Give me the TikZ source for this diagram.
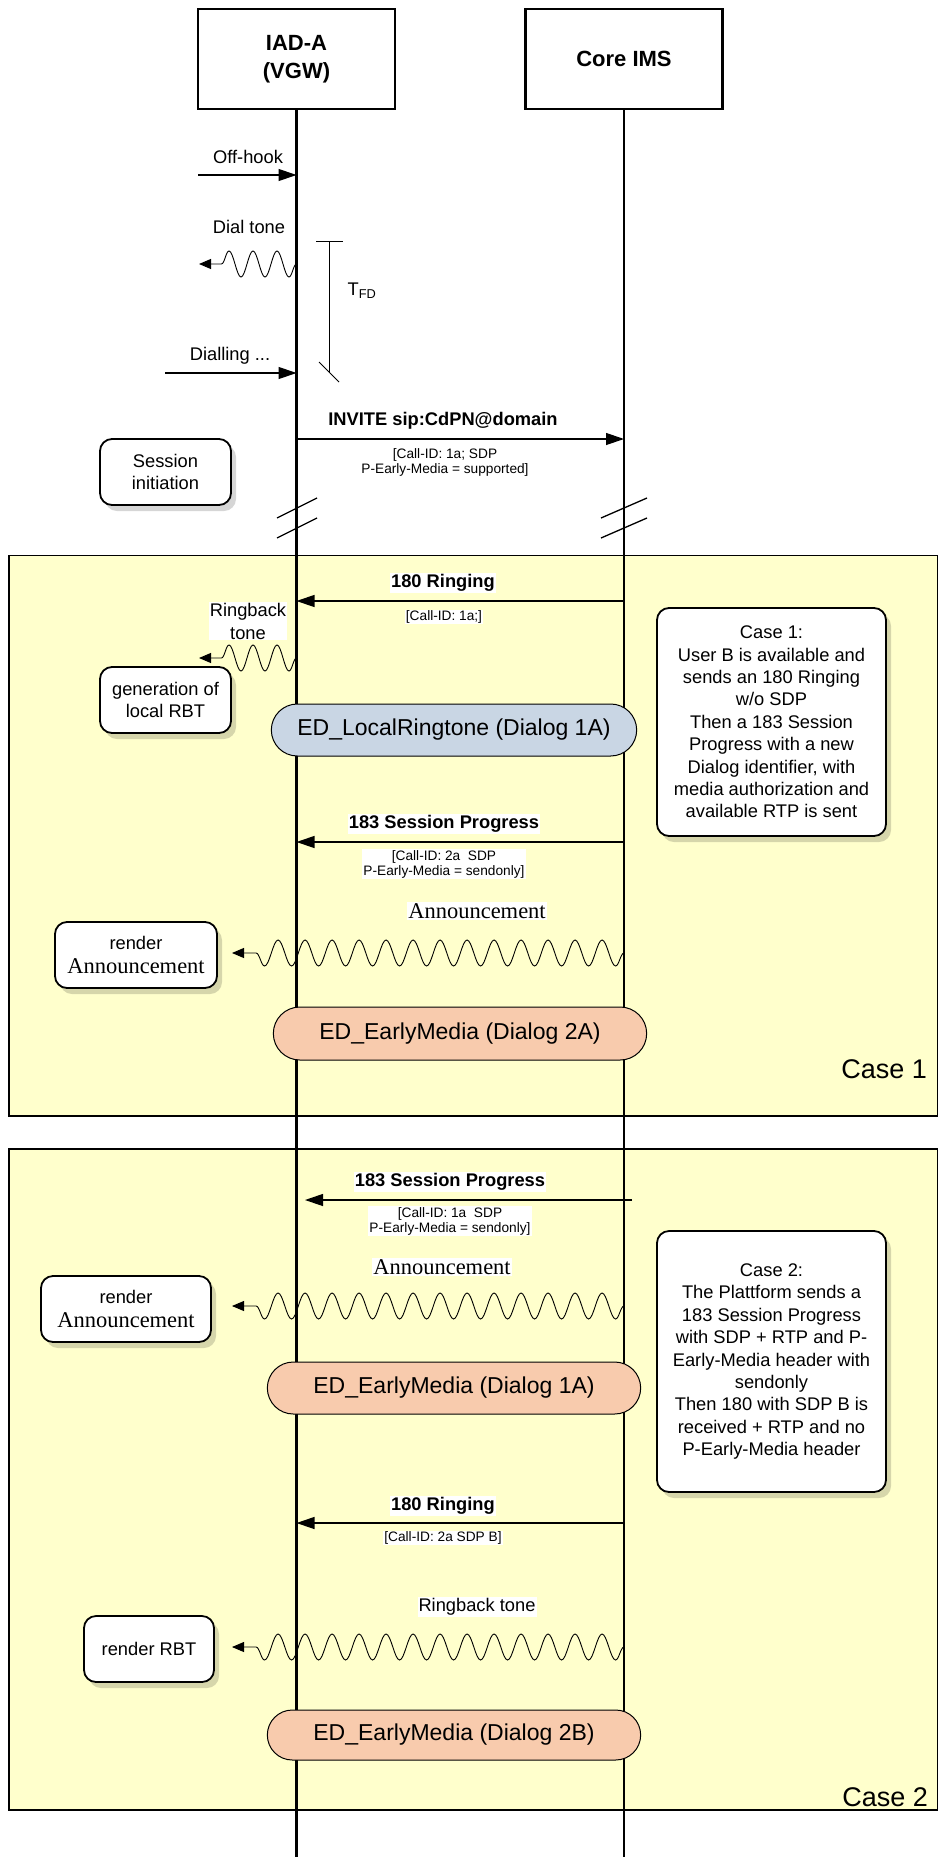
\documentclass[tikz,border=0pt]{standalone}
\usepackage{fontspec}
\setmainfont{Liberation Sans}
\newfontfamily\annfont{Liberation Serif}
\usetikzlibrary{arrows.meta, positioning, shadows, shapes.misc, decorations.pathmorphing}
\definecolor{caseyellow}{HTML}{FFFFCC}
\definecolor{dlgblue}{HTML}{C9D6E4}
\definecolor{dlgpeach}{HTML}{F8CBAD}

\tikzset{
  entity/.style={draw, line width=2.2pt, minimum width=197pt, minimum height=100pt, align=center,
    font=\fontsize{22}{28}\selectfont\bfseries},
  lifeline/.style={line width=2.5pt},
  msg/.style={line width=1.2pt, -{Triangle[length=18pt,width=12pt]}},
  msglabel/.style={fill=white, inner sep=1pt, font=\fontsize{18.3}{22}\selectfont\bfseries},
  param/.style={fill=white, inner sep=1pt, align=center, font=\fontsize{13.7}{15}\selectfont},
  plain/.style={inner sep=1pt, align=center, font=\fontsize{18.3}{23}\selectfont},
  anntext/.style={fill=white, inner sep=1pt, font=\annfont\fontsize{22.5}{26}\selectfont},
  tone/.style={line width=0.9pt, decorate,
    decoration={snake, amplitude=13pt, segment length=#1, post length=13pt},
    -{Triangle[length=12pt,width=10pt]}},
  tone/.default=27pt,
  action/.style={draw, fill=white, line width=1.8pt, rounded corners=12pt, align=center, inner sep=2pt,
    font=\fontsize{18.3}{21.5}\selectfont,
    drop shadow={shadow xshift=5pt, shadow yshift=-6pt, fill=black, opacity=0.16}},
  note/.style={action, font=\fontsize{18.3}{22.4}\selectfont},
  dialog/.style={draw, rounded rectangle, line width=1pt, font=\fontsize{23}{27}\selectfont},
  casebox/.style={draw, fill=caseyellow, line width=1.5pt},
  caselabel/.style={inner sep=0pt, font=\fontsize{27}{30}\selectfont},
  breakmark/.style={line width=1.3pt}
}

\begin{document}
\begin{tikzpicture}[x=1pt, y=-1pt, font=\fontsize{18.3}{22}\selectfont]
  \useasboundingbox (0,0) rectangle (939,1857);

  % entities
  \node[entity] (iad) at (296.5,59) {IAD-A\\(VGW)};
  \node[entity] (core) at (624,59) {Core IMS};

  % case areas
  \draw[casebox] (9,555.5) rectangle (937.5,1116);
  \draw[casebox] (9,1149) rectangle (937.5,1810);

  % lifelines
  \coordinate (iadend) at (296.5,1857);
  \coordinate (coreend) at (624,1857);
  \draw[lifeline] (iad.south) -- (iadend);
  \draw[lifeline] (core.south) -- (coreend);

  % off-hook, dial tone, dialling
  \node[plain] (offlbl) at (248,157) {Off-hook};
  \coordinate (offhook) at (198,175);
  \draw[msg] (offhook) -- (iad |- offhook);

  \node[plain] (dtlbl) at (249,227) {Dial tone};
  \coordinate (dialtone) at (199,264);
  \draw[tone=24pt] (iad |- dialtone) -- (dialtone);

  \node[plain] (diallbl) at (230,356) {Dialling ...};
  \coordinate (dialling) at (165,373);
  \draw[msg] (dialling) -- (iad |- dialling);

  % timer
  \draw[line width=1pt] (316,241) -- (343,241);
  \draw[line width=1pt] (329,241) -- (329,372);
  \draw[line width=1pt] (319,362) -- (339,382);
  \node[plain] (tfd) at (362,291) {T\textsubscript{FD}};

  % invite
  \node[msglabel] (invlbl) at (443,421) {INVITE sip:CdPN@domain};
  \coordinate (invite) at (296.5,439);
  \draw[msg] (invite) -- (core |- invite);
  \node[param, fill=none] (invpar) at (445,462) {[Call-ID: 1a; SDP\\P-Early-Media = supported]};
  \node[action, minimum width=131pt, minimum height=66pt] (sess) at (165.5,472) {Session\\initiation};

  % breaks
  \foreach \dy in {0,20} {
    \draw[breakmark] (277,518+\dy) -- (317,498+\dy);
    \draw[breakmark] (601,518+\dy) -- (647,498+\dy);
  }

  % case 1
  \node[msglabel] (r1lbl) at (443,583) {180 Ringing};
  \coordinate (ring1) at (624,601);
  \draw[msg] (ring1) -- (iad |- ring1);
  \node[param] (r1par) at (444,617) {[Call-ID: 1a;]};

  \node[plain, fill=white] (rbtlbl) at (248,621) {Ringback\\tone};
  \coordinate (rbt1) at (199,658);
  \draw[tone=24pt] (iad |- rbt1) -- (rbt1);
  \node[action, minimum width=131pt, minimum height=66pt] (genrbt) at (165.5,700) {generation of\\local RBT};

  \node[dialog, fill=dlgblue, minimum width=372pt, minimum height=52pt] (dlg1) at (454,730)
    {ED\_LocalRingtone (Dialog 1A)};

  \node[note, minimum width=229pt, minimum height=228pt] (note1) at (771.5,722)
    {Case 1:\\User B is available and\\sends an 180 Ringing\\w/o SDP\\Then a 183 Session\\Progress with a new\\Dialog identifier, with\\media authorization and\\available RTP is sent};

  \node[msglabel] (sp1lbl) at (444,824) {183 Session Progress};
  \coordinate (prog1) at (624,842);
  \draw[msg] (prog1) -- (iad |- prog1);
  \node[param] (sp1par) at (444,864) {[Call-ID: 2a~~SDP\\P-Early-Media = sendonly]};

  \node[anntext] (ann1lbl) at (477,911) {Announcement};
  \coordinate (ann1) at (232,953);
  \draw[tone] (core |- ann1) -- (ann1);
  \node[action, minimum width=162pt, minimum height=66pt, font=\fontsize{18.3}{24.5}\selectfont] (rend1) at (136,955)
    {render\\{\annfont\fontsize{22.5}{24.5}\selectfont Announcement}};

  \node[dialog, fill=dlgpeach, minimum width=380pt, minimum height=53pt] (dlg2) at (460,1033.5)
    {ED\_EarlyMedia (Dialog 2A)};
  \node[caselabel, anchor=east] (case1) at (927,1069) {Case 1};

  % case 2
  \node[msglabel] (sp2lbl) at (450,1182) {183 Session Progress};
  \coordinate (prog2s) at (632,1200);
  \coordinate (prog2e) at (305,1200);
  \draw[msg] (prog2s) -- (prog2e);
  \node[param] (sp2par) at (450,1221) {[Call-ID: 1a~~SDP\\P-Early-Media = sendonly]};

  \node[anntext] (ann2lbl) at (442,1267) {Announcement};
  \coordinate (ann2) at (232,1306);
  \draw[tone] (core |- ann2) -- (ann2);
  \node[action, minimum width=170pt, minimum height=66pt, font=\fontsize{18.3}{24.5}\selectfont] (rend2) at (126,1309)
    {render\\{\annfont\fontsize{22.5}{24.5}\selectfont Announcement}};

  \node[dialog, fill=dlgpeach, minimum width=380pt, minimum height=52pt] (dlg3) at (454,1388)
    {ED\_EarlyMedia (Dialog 1A)};

  \node[note, minimum width=229pt, minimum height=261pt] (note2) at (771.5,1361.5)
    {Case 2:\\The Plattform sends a\\183 Session Progress\\with SDP + RTP and P-\\Early-Media header with\\sendonly\\Then 180 with SDP B is\\received + RTP and no\\P-Early-Media header};

  \node[msglabel] (r2lbl) at (443,1506) {180 Ringing};
  \coordinate (ring2) at (624,1523);
  \draw[msg] (ring2) -- (iad |- ring2);
  \node[param] (r2par) at (443,1538) {[Call-ID: 2a SDP B]};

  \node[plain, fill=white] (rbt2lbl) at (477,1607) {Ringback tone};
  \coordinate (rbt2) at (232,1647);
  \draw[tone] (core |- rbt2) -- (rbt2);
  \node[action, minimum width=130pt, minimum height=66pt] (rendrbt) at (149,1649) {render RBT};

  \node[dialog, fill=dlgpeach, minimum width=380pt, minimum height=50pt] (dlg4) at (454,1735)
    {ED\_EarlyMedia (Dialog 2B)};
  \node[caselabel, anchor=east] (case2) at (928,1797) {Case 2};
\end{tikzpicture}
\end{document}
